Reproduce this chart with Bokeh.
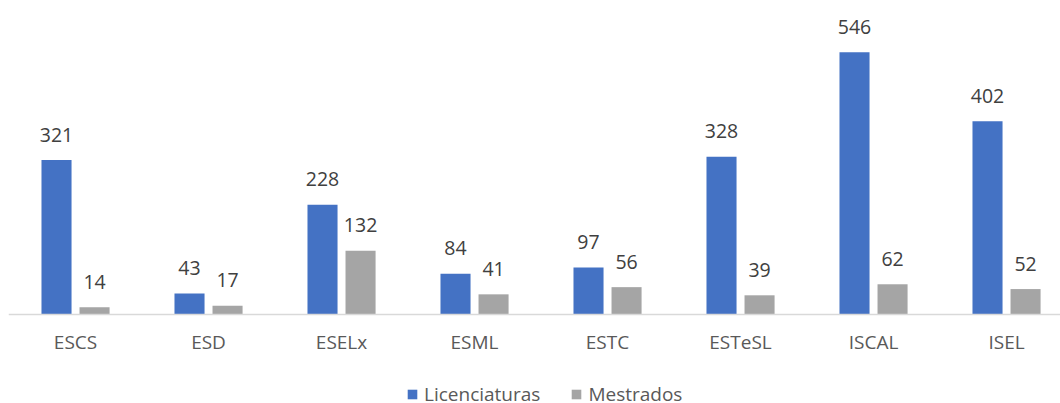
from bokeh.plotting import figure
from bokeh.models import (Range1d, ColumnDataSource, Legend, LegendItem, FixedTicker,
                          LinearAxis)
from bokeh.transform import dodge
from bokeh.core.properties import value
from bokeh.embed import file_html
from bokeh.resources import INLINE

categories = ["ESCS", "ESD", "ESELx", "ESML", "ESTC", "ESTeSL", "ISCAL", "ISEL"]
licenciaturas = [321, 43, 228, 84, 97, 328, 546, 402]
mestrados = [14, 17, 132, 41, 56, 39, 62, 52]

xs = [i + 0.5 for i in range(len(categories))]
src = ColumnDataSource(dict(
    x=xs, cat=categories, lic=licenciaturas, mes=mestrados,
    lic_lbl=[str(v) for v in licenciaturas],
    mes_lbl=[str(v) for v in mestrados],
))

CAT_PX = 133.0
FRAME_W = 1052
FRAME_H = 395
BASE_FROM_TOP = 305.5
PX_PER_UNIT = 0.4795

p = figure(
    frame_width=FRAME_W, frame_height=FRAME_H,
    x_range=Range1d(-0.004, -0.004 + FRAME_W / CAT_PX),
    y_range=Range1d(-(FRAME_H - BASE_FROM_TOP) / PX_PER_UNIT, BASE_FROM_TOP / PX_PER_UNIT),
    output_backend="svg", toolbar_location=None,
    x_axis_location=None, y_axis_location=None,
    min_border_left=8, min_border_right=0, min_border_top=8, min_border_bottom=0,
)
p.outline_line_color = None
p.grid.visible = False
p.background_fill_color = "white"
p.border_fill_color = "white"

off = 0.143
bw = 0.226
r1 = p.vbar(x=dodge("x", -off, range=p.x_range), top="lic", bottom=0, width=bw, source=src,
            fill_color="#4472C4", line_color=None)
r2 = p.vbar(x=dodge("x", off, range=p.x_range), top="mes", bottom=0, width=bw, source=src,
            fill_color="#A5A5A5", line_color=None)

common = dict(text_font=value("Open Sans"), text_font_size="19.5px", text_color="#404040",
              text_align="center", text_baseline="alphabetic", y_offset=-25.5, source=src)
p.text(x=dodge("x", -off, range=p.x_range), y="lic", text="lic_lbl", **common)
p.text(x=dodge("x", off, range=p.x_range), y="mes", text="mes_lbl", **common)

ax = LinearAxis(fixed_location=0, ticker=FixedTicker(ticks=xs))
ax.major_label_overrides = {x: c for x, c in zip(xs, categories)}
ax.axis_line_color = "#D9D9D9"
ax.axis_line_width = 1.5
ax.major_tick_line_color = None
ax.minor_tick_line_color = None
ax.major_label_text_font = "Open Sans"
ax.major_label_text_font_size = "19px"
ax.major_label_text_color = "#595959"
ax.major_label_standoff = 9
p.add_layout(ax, "below")

legend = Legend(
    items=[LegendItem(label="Licenciaturas", renderers=[r1]),
           LegendItem(label="Mestrados", renderers=[r2])],
    orientation="horizontal", location=(398, -4),
    glyph_width=12, glyph_height=12,
    label_text_font="Open Sans", label_text_font_size="19px", label_text_color="#595959",
    border_line_color=None, background_fill_alpha=0,
    spacing=30, label_standoff=6, padding=0, margin=0,
)
p.add_layout(legend, "center")

open("out.html", "w").write(file_html(p, INLINE))
